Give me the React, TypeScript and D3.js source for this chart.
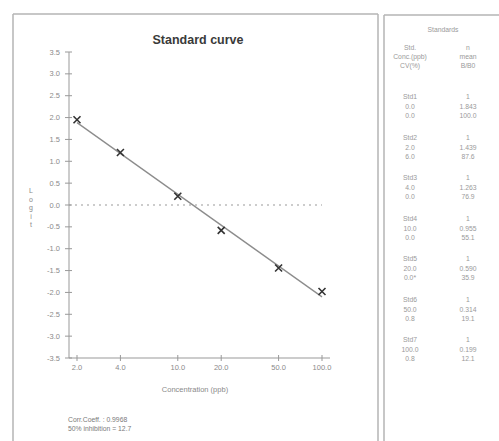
import { useEffect, useRef } from 'react';
import * as d3 from 'd3';

// standard concentrations (ppb) and their logit(B/B0)
const concentrations = [2, 4, 10, 20, 50, 100];
const logitValues = [1.95, 1.2, 0.2, -0.58, -1.44, -1.98];

const yTicks = [3.5, 3.0, 2.5, 2.0, 1.5, 1.0, 0.5, 0.0, -0.5, -1.0, -1.5, -2.0, -2.5, -3.0, -3.5];
const xTicks = [2, 4, 10, 20, 50, 100];

// Standards table
const stdNames = ['Std1', 'Std2', 'Std3', 'Std4', 'Std5', 'Std6', 'Std7'];
const stdConc = ['0.0', '2.0', '4.0', '10.0', '20.0', '50.0', '100.0'];
const stdCV = ['0.0', '6.0', '0.0', '0.0', '0.0*', '0.8', '0.8'];
const stdN = ['1', '1', '1', '1', '1', '1', '1'];
const stdMean = ['1.843', '1.439', '1.263', '0.955', '0.590', '0.314', '0.199'];
const stdBB0 = ['100.0', '87.6', '76.9', '55.1', '35.9', '19.1', '12.1'];

const corrCoeff = '0.9968';
const inhibition50 = '12.7';

export default function App() {
  const svgRef = useRef<SVGSVGElement>(null);

  useEffect(() => {
    document.body.style.margin = '0';
    if (!svgRef.current) return;
    const svg = d3.select(svgRef.current);
    svg.selectAll('*').remove();

    const font = 'Liberation Sans, Arial, sans-serif';
    const border = '#b5b5b5';

    // panels
    svg.append('line').attr('x1', 13).attr('x2', 378).attr('y1', 14).attr('y2', 14).attr('stroke', border).attr('stroke-width', 1.5);
    svg.append('line').attr('x1', 13).attr('x2', 13).attr('y1', 14).attr('y2', 441).attr('stroke', border).attr('stroke-width', 1.5);
    svg.append('line').attr('x1', 378).attr('x2', 378).attr('y1', 14).attr('y2', 441).attr('stroke', border).attr('stroke-width', 1.5);
    svg.append('line').attr('x1', 384).attr('x2', 499).attr('y1', 15).attr('y2', 15).attr('stroke', border).attr('stroke-width', 1.5);
    svg.append('line').attr('x1', 384).attr('x2', 384).attr('y1', 15).attr('y2', 441).attr('stroke', border).attr('stroke-width', 1.5);

    // scales
    const x = d3.scaleLog().domain([2, 100]).range([77, 322]);
    const y = d3.scaleLinear().domain([-3.5, 3.5]).range([358, 52]);
    const axisX = 69;

    const g = svg.append('g');

    // title
    g.append('text')
      .attr('x', 198)
      .attr('y', 44)
      .attr('text-anchor', 'middle')
      .attr('font-family', font)
      .attr('font-size', '12.5px')
      .attr('font-weight', 'bold')
      .attr('fill', '#3a3a3a')
      .text('Standard curve');

    // y axis
    g.append('line').attr('x1', axisX).attr('x2', axisX).attr('y1', y(3.5)).attr('y2', y(-3.5)).attr('stroke', '#999');
    g.selectAll('.ytick')
      .data(yTicks)
      .enter()
      .append('line')
      .attr('x1', axisX - 4)
      .attr('x2', axisX + 3)
      .attr('y1', (d) => y(d))
      .attr('y2', (d) => y(d))
      .attr('stroke', '#999');
    g.selectAll('.ylabel')
      .data(yTicks)
      .enter()
      .append('text')
      .attr('x', axisX - 9)
      .attr('y', (d) => y(d))
      .attr('dy', '0.35em')
      .attr('text-anchor', 'end')
      .attr('font-family', font)
      .attr('font-size', '7.5px')
      .attr('fill', '#8a8a8a')
      .text((d) => d.toFixed(1));

    // y axis title, letters stacked
    'Logit'.split('').forEach((ch, i) => {
      g.append('text')
        .attr('x', 31)
        .attr('y', 193 + i * 8.5)
        .attr('text-anchor', 'middle')
        .attr('font-family', font)
        .attr('font-size', '7px')
        .attr('fill', '#8a8a8a')
        .text(ch);
    });

    // x axis
    g.append('line').attr('x1', axisX).attr('x2', 330).attr('y1', y(-3.5)).attr('y2', y(-3.5)).attr('stroke', '#999');
    g.selectAll('.xtick')
      .data(xTicks)
      .enter()
      .append('line')
      .attr('x1', (d) => x(d))
      .attr('x2', (d) => x(d))
      .attr('y1', y(-3.5) - 3)
      .attr('y2', y(-3.5) + 3)
      .attr('stroke', '#999');
    g.selectAll('.xlabel')
      .data(xTicks)
      .enter()
      .append('text')
      .attr('x', (d) => x(d))
      .attr('y', y(-3.5) + 12)
      .attr('text-anchor', 'middle')
      .attr('font-family', font)
      .attr('font-size', '7.5px')
      .attr('fill', '#8a8a8a')
      .text((d) => d.toFixed(1));

    g.append('text')
      .attr('x', 195)
      .attr('y', 392)
      .attr('text-anchor', 'middle')
      .attr('font-family', font)
      .attr('font-size', '7.5px')
      .attr('fill', '#8a8a8a')
      .text('Concentration (ppb)');

    // zero line
    g.append('line')
      .attr('x1', axisX)
      .attr('x2', x(100))
      .attr('y1', y(0))
      .attr('y2', y(0))
      .attr('stroke', '#999')
      .attr('stroke-width', 1.2)
      .attr('stroke-dasharray', '2,4');

    // least squares fit in log10(conc)
    const lx = concentrations.map((c) => Math.log10(c));
    const mx = d3.mean(lx)!;
    const my = d3.mean(logitValues)!;
    const slope =
      d3.sum(lx, (v, i) => (v - mx) * (logitValues[i] - my)) / d3.sum(lx, (v) => (v - mx) * (v - mx));
    const intercept = my - slope * mx;
    const fitLine = d3
      .line<number>()
      .x((c) => x(c))
      .y((c) => y(intercept + slope * Math.log10(c)));
    g.append('path')
      .datum([concentrations[0], concentrations[concentrations.length - 1]])
      .attr('d', fitLine)
      .attr('fill', 'none')
      .attr('stroke', '#8c8c8c')
      .attr('stroke-width', 1.3);

    // markers
    const s = 3.5;
    concentrations.forEach((c, i) => {
      const cx = x(c);
      const cy = y(logitValues[i]);
      g.append('path')
        .attr('d', `M${cx - s},${cy - s}L${cx + s},${cy + s}M${cx - s},${cy + s}L${cx + s},${cy - s}`)
        .attr('stroke', '#333')
        .attr('stroke-width', 1.6)
        .attr('fill', 'none');
    });

    // footnote
    g.append('text')
      .attr('x', 68)
      .attr('y', 422)
      .attr('font-family', font)
      .attr('font-size', '6.8px')
      .attr('fill', '#7a7a7a')
      .text(`Corr.Coeff. : ${corrCoeff}`);
    g.append('text')
      .attr('x', 68)
      .attr('y', 431)
      .attr('font-family', font)
      .attr('font-size', '6.8px')
      .attr('fill', '#7a7a7a')
      .text(`50% inhibition = ${inhibition50}`);

    // standards table
    const t = svg.append('g').attr('font-family', font).attr('font-size', '6.8px').attr('fill', '#9a9a9a').attr('text-anchor', 'middle');
    const col1 = 410;
    const col2 = 468;
    t.append('text').attr('x', 443).attr('y', 32).text('Standards');
    ['Std.', 'Conc.(ppb)', 'CV(%)'].forEach((h, i) => t.append('text').attr('x', col1).attr('y', 50 + i * 9).text(h));
    ['n', 'mean', 'B/B0'].forEach((h, i) => t.append('text').attr('x', col2).attr('y', 50 + i * 9).text(h));

    const rowY = d3.scaleLinear().domain([0, stdNames.length - 1]).range([99, 342]);
    stdNames.forEach((name, i) => {
      const y0 = rowY(i);
      t.append('text').attr('x', col1).attr('y', y0).text(name);
      t.append('text').attr('x', col1).attr('y', y0 + 10).text(stdConc[i]);
      t.append('text').attr('x', col1).attr('y', y0 + 19).text(stdCV[i]);
      t.append('text').attr('x', col2).attr('y', y0).text(stdN[i]);
      t.append('text').attr('x', col2).attr('y', y0 + 10).text(stdMean[i]);
      t.append('text').attr('x', col2).attr('y', y0 + 19).text(stdBB0[i]);
    });
  }, []);

  return <svg ref={svgRef} width={499} height={441} style={{ display: 'block', background: '#fff' }} />;
}
